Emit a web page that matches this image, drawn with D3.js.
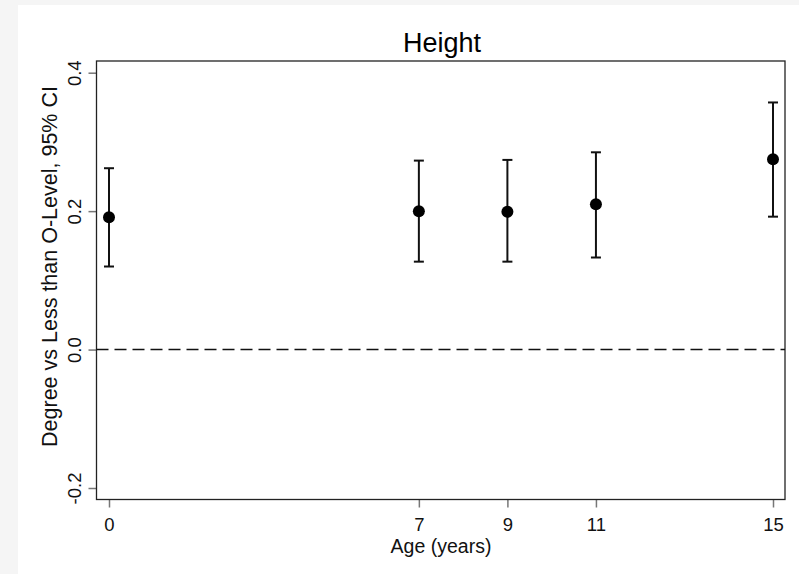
<!DOCTYPE html>
<html><head><meta charset="utf-8">
<script src="https://cdn.jsdelivr.net/npm/d3@7"></script>
<style>
html,body{margin:0;padding:0;background:#f5f5f5;}
svg{display:block;font-family:"Liberation Sans",Arial,sans-serif;}
</style></head>
<body><svg id="c" width="799" height="574"></svg>
<script>
const ages = [0, 7, 9, 11, 15];
const estimates = [0.191, 0.200, 0.199, 0.210, 0.275];
const ciLower = [0.120, 0.127, 0.127, 0.133, 0.192];
const ciUpper = [0.262, 0.273, 0.274, 0.285, 0.357];
const yTicks = [-0.2, 0.0, 0.2, 0.4];
const xTicks = [0, 7, 9, 11, 15];
const titleText = "Height";
const xTitle = "Age (years)";
const yTitle = "Degree vs Less than O-Level, 95% CI";

const svg = d3.select("#c");
svg.append("rect").attr("x",18).attr("y",5).attr("width",781).attr("height",569).attr("fill","#fff");

const frame = {l:96.5, t:61, r:785, b:499.5};
const x = d3.scaleLinear().domain([0,15]).range([109,773]);
const y = d3.scaleLinear().domain([-0.2,0.4]).range([488,72.7]);

// axes
const yFmt = d => d.toFixed(1).replace("\u2212","-");
const yAxis = svg.append("g").attr("transform",`translate(${frame.l},0)`)
  .call(d3.axisLeft(y).tickValues(yTicks).tickSize(8).tickFormat(yFmt));
yAxis.select(".domain").remove();
yAxis.selectAll("line").attr("stroke","#777").attr("stroke-width",1.5);
yAxis.selectAll("text").attr("font-size",18.5).attr("fill","#111")
  .attr("transform","translate(-16,0) rotate(-90)").attr("x",0).attr("y",0).attr("dy","0")
  .attr("text-anchor","middle");

const xAxis = svg.append("g").attr("transform",`translate(0,${frame.b})`)
  .call(d3.axisBottom(x).tickValues(xTicks).tickSize(8).tickFormat(d3.format("d")));
xAxis.select(".domain").remove();
xAxis.selectAll("line").attr("stroke","#777").attr("stroke-width",1.5);
xAxis.selectAll("text").attr("font-size",18.5).attr("fill","#111").attr("y",31.5).attr("dy","0");

// frame
svg.append("rect").attr("x",frame.l).attr("y",frame.t).attr("width",frame.r-frame.l).attr("height",frame.b-frame.t)
  .attr("fill","none").attr("stroke","#222").attr("stroke-width",1.3);

// zero line
svg.append("line").attr("x1",frame.l).attr("x2",frame.r).attr("y1",y(0)).attr("y2",y(0))
  .attr("stroke","#111").attr("stroke-width",1.5).attr("stroke-dasharray","12,6");

// error bars
const data = ages.map((a,i)=>({a, e:estimates[i], lo:ciLower[i], hi:ciUpper[i]}));
const g = svg.append("g");
g.selectAll(".v").data(data).join("line").attr("x1",d=>x(d.a)).attr("x2",d=>x(d.a))
  .attr("y1",d=>y(d.lo)).attr("y2",d=>y(d.hi)).attr("stroke","#111").attr("stroke-width",2);
g.selectAll(".ct").data(data).join("line").attr("x1",d=>x(d.a)-5).attr("x2",d=>x(d.a)+5)
  .attr("y1",d=>y(d.hi)).attr("y2",d=>y(d.hi)).attr("stroke","#111").attr("stroke-width",2);
g.selectAll(".cb").data(data).join("line").attr("x1",d=>x(d.a)-5).attr("x2",d=>x(d.a)+5)
  .attr("y1",d=>y(d.lo)).attr("y2",d=>y(d.lo)).attr("stroke","#111").attr("stroke-width",2);
g.selectAll("circle").data(data).join("circle").attr("cx",d=>x(d.a)).attr("cy",d=>y(d.e)).attr("r",6).attr("fill","#000");

// titles
svg.append("text").attr("x",442).attr("y",52).attr("text-anchor","middle").attr("font-size",27).attr("fill","#000").text(titleText);
svg.append("text").attr("x",441).attr("y",553).attr("text-anchor","middle").attr("font-size",19.5).attr("fill","#111").text(xTitle);
svg.append("text").attr("transform",`translate(57,${(83+450)/2}) rotate(-90)`).attr("text-anchor","middle")
  .attr("font-size",21.5).attr("fill","#111").text(yTitle);
</script></body></html>
